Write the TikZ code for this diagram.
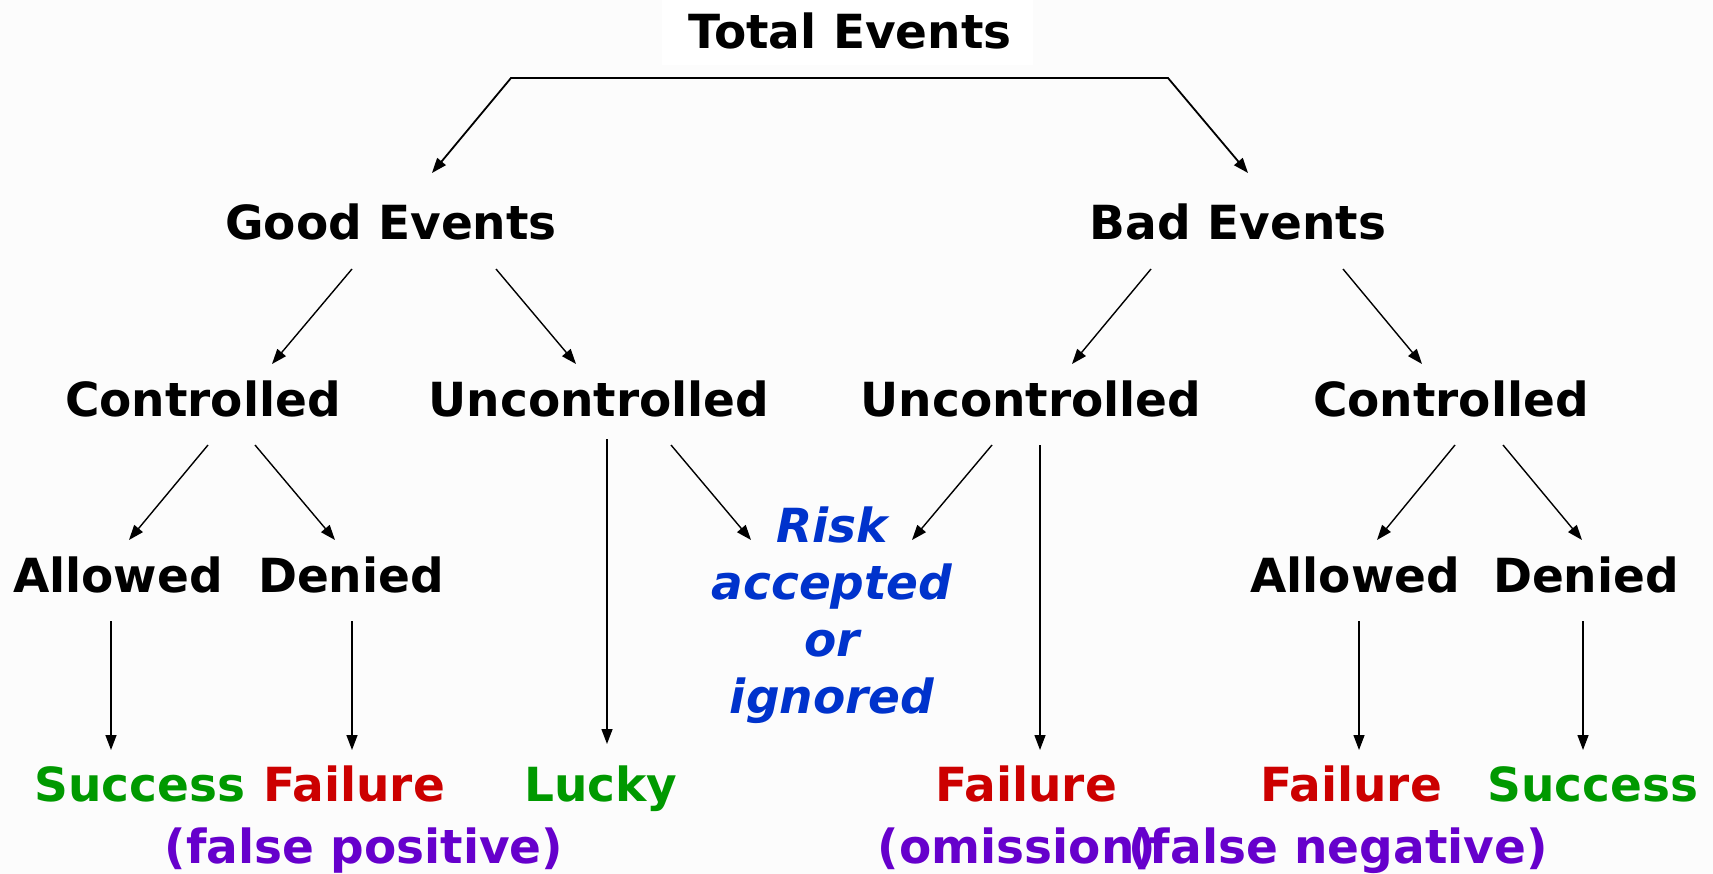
\documentclass[tikz,border=0pt]{standalone}
\usepackage{fontspec}
\setmainfont{DejaVu Sans}
\usetikzlibrary{arrows.meta,calc}
\definecolor{bgcol}{RGB}{252,252,252}
\definecolor{okgreen}{RGB}{0,153,0}
\definecolor{badred}{RGB}{204,0,0}
\definecolor{riskblue}{RGB}{0,51,204}
\definecolor{notepurple}{RGB}{102,0,204}
\begin{document}
\begin{tikzpicture}[x=1pt,y=-1pt,
  lbl/.style={font=\fontsize{47}{57}\selectfont\bfseries, inner sep=0pt, anchor=base},
  arr/.style={-{Triangle[length=15pt,width=11pt]}, line width=1.4pt, black},
]
\fill[bgcol] (0,0) rectangle (1713,874);
\fill[white] (662,0) rectangle (1033,65);
\useasboundingbox (0,0) rectangle (1713,874);

% labels
\node[lbl] (total) at (850,49) {Total Events};
\node[lbl] (good) at (391,240) {Good Events};
\node[lbl] (bad) at (1238,240) {Bad Events};
\node[lbl] (c1) at (203,416) {Controlled};
\node[lbl] (u1) at (599,416) {Uncontrolled};
\node[lbl] (u2) at (1031,416) {Uncontrolled};
\node[lbl] (c2) at (1451,416) {Controlled};
\node[lbl] (al1) at (118,592) {Allowed};
\node[lbl] (de1) at (351,592) {Denied};
\node[lbl] (al2) at (1355,592) {Allowed};
\node[lbl] (de2) at (1586,592) {Denied};
% base of a multi-line node is the baseline of its last line
\node[lbl, text=riskblue, align=center, font=\fontsize{47}{56.7}\selectfont\bfseries\itshape]
  (risk) at (832,713) {Risk\\accepted\\or\\ignored};
\node[lbl, text=okgreen] (s1) at (140,801) {Success};
\node[lbl, text=badred] (f1) at (354,801) {Failure};
\node[lbl, text=okgreen] (lucky) at (601,801) {Lucky};
\node[lbl, text=badred] (f2) at (1026,801) {Failure};
\node[lbl, text=badred] (f3) at (1351,801) {Failure};
\node[lbl, text=okgreen] (s2) at (1593,801) {Success};
\node[lbl, text=notepurple] (fp) at (364,863) {(false positive)};
\node[lbl, text=notepurple] (om) at (1017,863) {(omission)};
\node[lbl, text=notepurple] (fn) at (1338,863) {(false negative)};

% top split
\coordinate (split) at ($(total.base)+(0,29)$);
\draw[arr, line width=1.8pt] (split) -- ($(split)+(-339,0)$) -- ($(good.base)+(41,-67)$);
\draw[arr, line width=1.8pt] (split) -- ($(split)+(318,0)$) -- ($(bad.base)+(10,-67)$);

% second level
\draw[arr] ($(good.base)+(-39,29)$) -- ($(c1.base)+(69,-52)$);
\draw[arr] ($(good.base)+(105,29)$) -- ($(u1.base)+(-23,-52)$);
\draw[arr] ($(bad.base)+(-87,29)$) -- ($(u2.base)+(41,-52)$);
\draw[arr] ($(bad.base)+(105,29)$) -- ($(c2.base)+(-29,-52)$);

% third level
\draw[arr] ($(c1.base)+(5,29)$) -- ($(al1.base)+(11,-52)$);
\draw[arr] ($(c1.base)+(52,29)$) -- ($(de1.base)+(-16,-52)$);
\draw[arr] ($(u1.base)+(8,23)$) -- ($(lucky.base)+(6,-57)$);
\draw[arr] ($(u1.base)+(72,29)$) -- ($(risk.base)+(-81,-173)$);
\draw[arr] ($(u2.base)+(-39,29)$) -- ($(risk.base)+(80,-173)$);
\draw[arr] ($(u2.base)+(9,29)$) -- ($(f2.base)+(14,-51)$);
\draw[arr] ($(c2.base)+(4,29)$) -- ($(al2.base)+(22,-52)$);
\draw[arr] ($(c2.base)+(52,29)$) -- ($(de2.base)+(-4,-52)$);

% outcomes
\draw[arr] ($(al1.base)+(-7,29)$) -- ($(s1.base)+(-29,-51)$);
\draw[arr] ($(de1.base)+(1,29)$) -- ($(f1.base)+(-2,-51)$);
\draw[arr] ($(al2.base)+(4,29)$) -- ($(f3.base)+(8,-51)$);
\draw[arr] ($(de2.base)+(-3,29)$) -- ($(s2.base)+(-10,-51)$);
\end{tikzpicture}
\end{document}
